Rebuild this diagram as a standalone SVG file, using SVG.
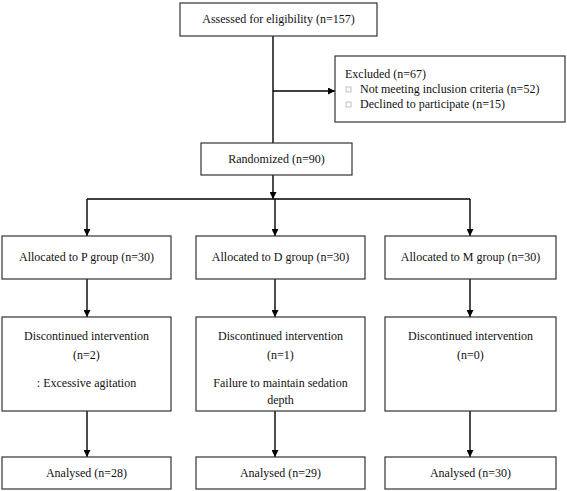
<svg xmlns="http://www.w3.org/2000/svg" width="567" height="491" viewBox="0 0 567 491">
<defs>
<marker id="ah" viewBox="0 0 10 10" refX="10" refY="5" markerWidth="7" markerHeight="7" markerUnits="userSpaceOnUse" orient="auto"><path d="M0,0 L10,5 L0,10 z" fill="#000"/></marker>
<style>
rect{fill:#fff;stroke:#333;stroke-width:1.2}
text{font-family:'Liberation Serif','Times New Roman',serif;font-size:12px;fill:#111}
.c{text-anchor:middle}
.ln{stroke:#000;stroke-width:1.4;fill:none}
.sq{fill:none;stroke:#aaa;stroke-width:0.7}
</style>
</defs>
<rect width="567" height="491" style="fill:#fff;stroke:none"/>
<g id="connectors">
<path class="ln" d="M273,36 V143"/>
<path class="ln" d="M273,91 H335" marker-end="url(#ah)"/>
<path class="ln" d="M273,175 V199" marker-end="url(#ah)"/>
<path class="ln" d="M87,199 H470"/>
<path class="ln" d="M87,199 V236" marker-end="url(#ah)"/>
<path class="ln" d="M275,199 V236" marker-end="url(#ah)"/>
<path class="ln" d="M470,199 V236" marker-end="url(#ah)"/>
<path class="ln" d="M87,279 V317" marker-end="url(#ah)"/>
<path class="ln" d="M275,279 V317" marker-end="url(#ah)"/>
<path class="ln" d="M470,279 V317" marker-end="url(#ah)"/>
<path class="ln" d="M87,411 V457" marker-end="url(#ah)"/>
<path class="ln" d="M275,411 V457" marker-end="url(#ah)"/>
<path class="ln" d="M470,411 V457" marker-end="url(#ah)"/>
</g>
<g id="assessed"><rect x="180" y="3" width="197" height="33"/><text class="c" x="278.5" y="23">Assessed for eligibility (n=157)</text></g>
<g id="excluded"><rect x="335" y="56" width="230" height="66"/>
<text x="345" y="78">Excluded  (n=67)</text>
<rect class="sq" x="346" y="87" width="5" height="5"/>
<text x="360" y="93">Not meeting inclusion criteria (n=52)</text>
<rect class="sq" x="346" y="102" width="5" height="5"/>
<text x="360" y="108">Declined to participate (n=15)</text></g>
<g id="randomized"><rect x="201" y="143" width="151" height="32"/><text class="c" x="276.5" y="163">Randomized (n=90)</text></g>
<g id="allocP"><rect x="2" y="236" width="169" height="43"/><text class="c" x="86.5" y="261">Allocated to P group (n=30)</text></g>
<g id="allocD"><rect x="196" y="236" width="169" height="43"/><text class="c" x="280.5" y="261">Allocated to D group (n=30)</text></g>
<g id="allocM"><rect x="385" y="236" width="171" height="43"/><text class="c" x="470.5" y="261">Allocated to M group (n=30)</text></g>
<g id="discP"><rect x="2" y="317" width="169" height="94"/>
<text class="c" x="86.5" y="340">Discontinued intervention</text><text class="c" x="86.5" y="359">(n=2)</text><text class="c" x="86.5" y="387">: Excessive agitation</text></g>
<g id="discD"><rect x="196" y="317" width="169" height="94"/>
<text class="c" x="280.5" y="340">Discontinued intervention</text><text class="c" x="280.5" y="359">(n=1)</text><text class="c" x="280.5" y="387">Failure to maintain sedation</text><text class="c" x="280.5" y="404">depth</text></g>
<g id="discM"><rect x="385" y="317" width="171" height="94"/>
<text class="c" x="470.5" y="340">Discontinued intervention</text><text class="c" x="470.5" y="359">(n=0)</text></g>
<g id="anP"><rect x="2" y="457" width="169" height="32"/><text class="c" x="86.5" y="477">Analysed  (n=28)</text></g>
<g id="anD"><rect x="196" y="457" width="169" height="32"/><text class="c" x="280.5" y="477">Analysed  (n=29)</text></g>
<g id="anM"><rect x="385" y="457" width="171" height="32"/><text class="c" x="470.5" y="477">Analysed  (n=30)</text></g>
</svg>
